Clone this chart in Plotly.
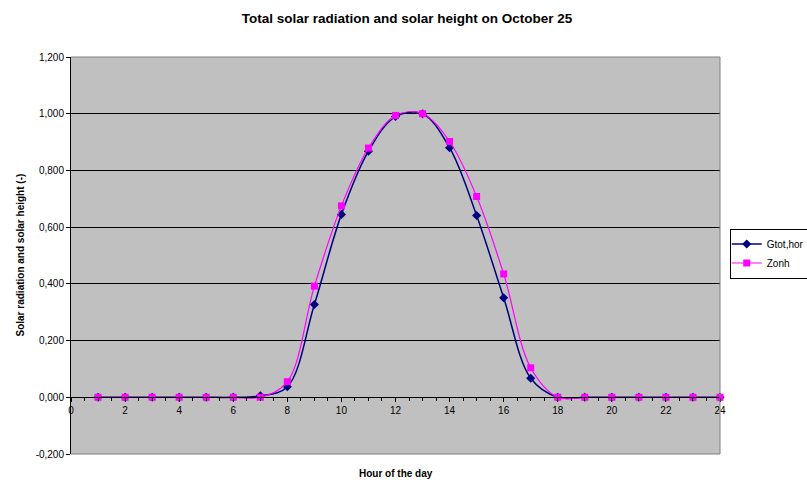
import plotly.graph_objects as go

# Hourly values for October 25 (normalised, 0..1)
hours = list(range(1, 25))
gtot_hor = [0, 0, 0, 0, 0, 0, 0.005, 0.037, 0.327, 0.645, 0.868, 0.990,
            1.000, 0.880, 0.641, 0.351, 0.067, 0, 0, 0, 0, 0, 0, 0]
zonh = [0, 0, 0, 0, 0, 0, 0, 0.055, 0.392, 0.675, 0.879, 0.994,
        1.000, 0.902, 0.708, 0.435, 0.104, 0, 0, 0, 0, 0, 0, 0]

y_tick_vals = [-0.2, 0.0, 0.2, 0.4, 0.6, 0.8, 1.0, 1.2]
y_tick_text = ["-0,200", "0,000", "0,200", "0,400", "0,600", "0,800", "1,000", "1,200"]
x_tick_vals = list(range(0, 25, 2))

Y_MIN, Y_MAX = -0.2, 1.2
FONT = "Liberation Sans, Arial, sans-serif"

fig = go.Figure()
fig.add_trace(go.Scatter(
    x=hours, y=gtot_hor, name="Gtot,hor", mode="lines+markers",
    line=dict(color="#000080", width=1.5, shape="spline", smoothing=1),
    marker=dict(symbol="diamond", size=7, color="#000080"),
    cliponaxis=False,
))
fig.add_trace(go.Scatter(
    x=hours, y=zonh, name="Zonh", mode="lines+markers",
    line=dict(color="#FF00FF", width=1.2, shape="spline", smoothing=1),
    marker=dict(symbol="square", size=7, color="#FF00FF"),
    cliponaxis=False,
))

fig.update_layout(
    width=807, height=480,
    margin=dict(l=71, r=87, t=57, b=26, autoexpand=False),
    paper_bgcolor="white",
    plot_bgcolor="#C0C0C0",
    font=dict(family=FONT, size=10, color="black"),
    title=dict(text="<b>Total solar radiation and solar height on October 25</b>",
               x=407 / 807, xanchor="center", y=1 - 18 / 480, yanchor="middle",
               font=dict(family=FONT, size=13.5, color="black")),
    showlegend=True,
    legend=dict(x=1.015, xanchor="left", y=0.505, yanchor="middle",
                bgcolor="white", bordercolor="black", borderwidth=1,
                font=dict(family=FONT, size=10, color="black"),
                itemwidth=30, tracegroupgap=0, indentation=-4),
    xaxis=dict(
        range=[0, 24], anchor="free",
        position=(0 - Y_MIN) / (Y_MAX - Y_MIN),
        tickmode="array", tickvals=x_tick_vals,
        ticks="outside", ticklen=4, tickcolor="black",
        showline=True, linecolor="black", linewidth=1,
        showgrid=False, zeroline=False,
        minor=dict(dtick=0.5, ticks="outside", ticklen=3, tickcolor="black", showgrid=False),
        tickfont=dict(family=FONT, size=10, color="black"),
    ),
    yaxis=dict(
        range=[Y_MIN, Y_MAX],
        tickmode="array", tickvals=y_tick_vals, ticktext=y_tick_text,
        ticks="outside", ticklen=4, tickcolor="black",
        showline=True, linecolor="black", linewidth=1,
        showgrid=True, gridcolor="black", gridwidth=1,
        zeroline=False,
        tickfont=dict(family=FONT, size=10, color="black"),
    ),
    shapes=[
        # plot-area frame (top, right and bottom edges)
        dict(type="path", xref="paper", yref="paper",
             path="M 0 1 L 1 1 L 1 0 L 0 0",
             line=dict(color="#808080", width=1), layer="above"),
    ],
    annotations=[
        dict(text="<b>Hour of the day</b>", xref="paper", yref="paper",
             x=0.5, y=0, xanchor="center", yanchor="top", yshift=-12,
             showarrow=False, font=dict(family=FONT, size=10, color="black")),
        dict(text="<b>Solar radiation and solar height (-)</b>", xref="paper", yref="paper",
             x=0, y=0.5, xanchor="center", yanchor="middle", xshift=-51,
             textangle=-90, showarrow=False,
             font=dict(family=FONT, size=10, color="black")),
    ],
)

fig.write_html("out.html")
